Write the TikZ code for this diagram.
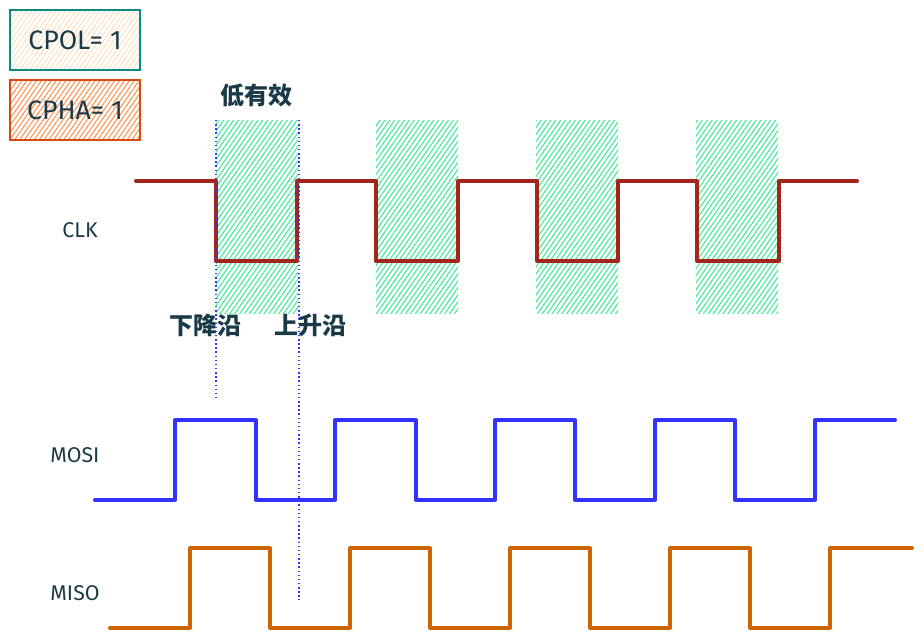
\documentclass[tikz,border=0pt]{standalone}
\usepackage{fontspec}
\setsansfont{Fira Sans}
\newfontfamily\cjk{Noto Sans CJK SC}
\usepackage{tikz}
\usetikzlibrary{patterns.meta, positioning}
\definecolor{inkdark}{HTML}{1B3A48}
\definecolor{clkred}{HTML}{A2261C}
\definecolor{mosiblue}{HTML}{3333FF}
\definecolor{misoorange}{HTML}{CC6600}
\definecolor{hatchgreen}{HTML}{4EEB9E}
\definecolor{polteal}{HTML}{0C8A84}
\definecolor{polfill}{HTML}{FFDDB8}
\definecolor{pharust}{HTML}{D9480F}
\definecolor{phafill}{HTML}{FF9450}
\tikzstyle{cpolbox} = [rectangle, minimum width=97.5pt, minimum height=45pt, draw=polteal, line width=1pt, pattern={Lines[angle=55,distance=3pt,line width=0.7pt]}, pattern color=polfill, text=inkdark, font=\sffamily\fontsize{20}{20}\selectfont]
\tikzstyle{cphabox} = [rectangle, minimum width=97.5pt, minimum height=45pt, draw=pharust, line width=1pt, pattern={Lines[angle=55,distance=3pt,line width=0.8pt]}, pattern color=phafill, text=inkdark, font=\sffamily\fontsize{20}{20}\selectfont]
\tikzstyle{sig} = [text=inkdark, font=\sffamily\fontsize{16}{16}\selectfont]
\tikzstyle{edge} = [text=inkdark, font=\cjk\bfseries\fontsize{18}{18}\selectfont]
\tikzstyle{window} = [pattern={Lines[angle=55,distance=3pt,line width=0.9pt]}, pattern color=hatchgreen]
\tikzstyle{wave} = [line width=3pt, line join=round, line cap=round]
\tikzstyle{marker} = [mosiblue, line width=1.1pt, dotted]

\begin{document}
\begin{tikzpicture}[x=0.75pt, y=-0.75pt]
        \useasboundingbox (0,0) rectangle (924,642);

        % mode boxes
        \node (cpol) [cpolbox] at (75,40) {CPOL= 1};
        \node (cpha) [cphabox] at (75,110) {CPHA= 1};

        % active-low windows
        \foreach \x in {216,376,536,696}
            \fill [window] (\x,120) rectangle ++(82,193);

        % clock
        \draw [wave, clkred] (136,181) -- (216,181) -- (216,261) -- (297,261) -- (297,181)
            -- (376,181) -- (376,261) -- (458,261) -- (458,181)
            -- (537,181) -- (537,261) -- (618,261) -- (618,181)
            -- (697,181) -- (697,261) -- (779,261) -- (779,181) -- (857,181);

        % edge markers
        \coordinate (fallTop) at (216,120);
        \coordinate (fallEnd) at (216,400);
        \coordinate (riseTop) at (299,120);
        \coordinate (riseEnd) at (299,600);
        \draw [marker] (fallTop) -- (fallEnd);
        \draw [marker] (riseTop) -- (riseEnd);

        % data lines
        \draw [wave, mosiblue] (95,500) -- (175,500) -- (175,420) -- (256,420) -- (256,500)
            -- (335,500) -- (335,420) -- (416,420) -- (416,500)
            -- (495,500) -- (495,420) -- (575,420) -- (575,500)
            -- (655,500) -- (655,420) -- (735,420) -- (735,500)
            -- (815,500) -- (815,420) -- (895,420);
        \draw [wave, misoorange] (110,628) -- (190,628) -- (190,548) -- (270,548) -- (270,628)
            -- (350,628) -- (350,548) -- (430,548) -- (430,628)
            -- (510,628) -- (510,548) -- (590,548) -- (590,628)
            -- (670,628) -- (670,548) -- (750,548) -- (750,628)
            -- (830,628) -- (830,548) -- (912,548);

        % labels
        \node (lowact) [edge] at (256,95) {低有效};
        \node (fall) [edge] at (205,325) {下降沿};
        \node (rise) [edge] at (310,325) {上升沿};
        \node (clk) [sig] at (80,230) {CLK};
        \node (mosi) [sig] at (75,455) {MOSI};
        \node (miso) [sig] at (75,593) {MISO};
    \end{tikzpicture}
\end{document}
